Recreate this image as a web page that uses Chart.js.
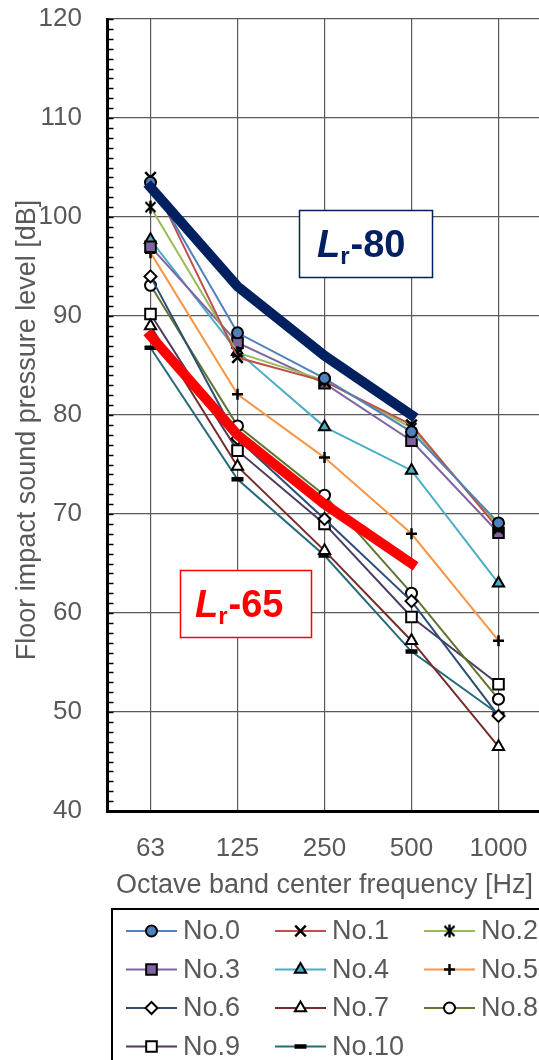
<!DOCTYPE html>
<html><head><meta charset="utf-8">
<script src="https://cdn.jsdelivr.net/npm/chart.js@4.4.0/dist/chart.umd.min.js"></script>
<style>html,body{margin:0;padding:0;overflow:hidden;background:#fff;width:539px;height:1060px}canvas{display:block}</style>
</head><body>
<canvas id="c" width="545" height="1060" style="width:545px;height:1060px"></canvas>
<script>
const categories = ['63', '125', '250', '500', '1000'];
const yTicks = [40, 50, 60, 70, 80, 90, 100, 110, 120];
const seriesNames = ['No.0','No.1','No.2','No.3','No.4','No.5','No.6','No.7','No.8','No.9','No.10'];
const no0  = [103.5, 88.3, 83.7, 78.3, 69.1];
const no1  = [104.0, 85.8, 83.4, 79.0, 68.5];
const no2  = [101.0, 86.3, 83.5, 78.7, 68.8];
const no3  = [97.0, 87.3, 83.2, 77.4, 68.1];
const no4  = [97.7, 86.4, 78.8, 74.4, 63.0];
const no5  = [96.4, 82.1, 75.7, 68.0, 57.2];
const no6  = [94.0, 77.6, 69.5, 61.2, 49.6];
const no7  = [89.0, 74.8, 66.3, 57.2, 46.5];
const no8  = [93.1, 78.9, 71.9, 62.0, 51.3];
const no9  = [90.2, 76.4, 69.0, 59.6, 52.8];
const no10 = [86.8, 73.5, 65.8, 56.1, 49.8];
const lr80 = [103, 93, 86, 80, null];
const lr65 = [88, 78, 71, 65, null];

const FONT = '"Liberation Sans", Arial, sans-serif';
const GRAY = '#595959';

// asterisk marker (x with vertical bar)
const star = document.createElement('canvas');
star.width = 15; star.height = 15;
(function(){const g = star.getContext('2d'); g.strokeStyle='#000'; g.lineWidth=2.4; g.lineCap='butt';
 g.beginPath(); g.moveTo(2.5,2.5); g.lineTo(12.5,12.5); g.moveTo(12.5,2.5); g.lineTo(2.5,12.5);
 g.moveTo(7.5,1); g.lineTo(7.5,14); g.stroke();})();

const styleDefs = [
  {c:'#4F81BD', ps:'circle', r:5.5, bg:'#4F81BD', bw:2},
  {c:'#C0504D', ps:'crossRot', r:7.5, bg:'#000', bw:2.5},
  {c:'#9BBB59', ps:star, r:7, bg:'#000', bw:2},
  {c:'#8064A2', ps:'rect', r:7.5, bg:'#8064A2', bw:2},
  {c:'#4BACC6', ps:'triangle', r:6.5, bg:'#4BACC6', bw:2},
  {c:'#F79646', ps:'cross', r:5.5, bg:'#000', bw:2.5},
  {c:'#2C4D75', ps:'rectRot', r:6, bg:'#fff', bw:2},
  {c:'#772C2A', ps:'triangle', r:6.5, bg:'#fff', bw:2},
  {c:'#5F7530', ps:'circle', r:5.5, bg:'#fff', bw:2},
  {c:'#4D3B62', ps:'rect', r:7.5, bg:'#fff', bw:2},
  {c:'#276A7C', ps:'line', r:6, bg:'#000', bw:4.5}
];
const seriesData = [no0,no1,no2,no3,no4,no5,no6,no7,no8,no9,no10];

const datasets = seriesData.map((d,i)=>({
  label: seriesNames[i], data: d, borderColor: styleDefs[i].c, borderWidth: 2,
  pointStyle: styleDefs[i].ps, pointRadius: styleDefs[i].r, pointBackgroundColor: styleDefs[i].bg,
  pointBorderColor: '#000', pointBorderWidth: styleDefs[i].bw, tension: 0, order: 1
}));
datasets.push({label:'Lr-80', data: lr80, borderColor:'#002060', borderWidth:10, pointRadius:0, borderCapStyle:'square', order:0});
datasets.push({label:'Lr-65', data: lr65, borderColor:'#FF0000', borderWidth:10, pointRadius:0, borderCapStyle:'square', order:0});

const extras = {
  id: 'extras',
  afterDraw(chart) {
    const ctx = chart.ctx, y = chart.scales.y, area = chart.chartArea;
    ctx.save();
    // minor ticks on y axis
    ctx.strokeStyle = '#000'; ctx.lineWidth = 1.5;
    for (let v = yTicks[0]; v <= yTicks[yTicks.length-1]; v++) {
      const py = Math.round(y.getPixelForValue(v)) + 0.5;
      ctx.beginPath(); ctx.moveTo(area.left, py); ctx.lineTo(area.left + 6.5, py); ctx.stroke();
    }
    // y title
    ctx.fillStyle = GRAY; ctx.font = '27px ' + FONT; ctx.textAlign = 'center'; ctx.textBaseline = 'middle';
    ctx.translate(28, 430); ctx.rotate(-Math.PI/2);
    ctx.fillText('Floor impact sound pressure level [dB]', 0, 0);
    ctx.setTransform(1,0,0,1,0,0);
    // annotation boxes
    function label(x, base, color, num) {
      ctx.fillStyle = color; ctx.textAlign = 'left'; ctx.textBaseline = 'alphabetic';
      ctx.font = 'italic bold 38px ' + FONT; ctx.fillText('L', x, base);
      let w = ctx.measureText('L').width;
      ctx.font = 'bold 24px ' + FONT; ctx.fillText('r', x + w, base + 7);
      w += ctx.measureText('r').width + 1;
      ctx.font = 'bold 38px ' + FONT; ctx.fillText('-' + num, x + w, base);
    }
    ctx.lineWidth = 1.5;
    ctx.fillStyle = '#fff'; ctx.fillRect(299.5, 210.5, 133, 67);
    ctx.strokeStyle = '#002060'; ctx.strokeRect(299.5, 210.5, 133, 67);
    label(317, 257, '#002060', '80');
    ctx.fillStyle = '#fff'; ctx.fillRect(180.5, 570.5, 131, 67);
    ctx.strokeStyle = '#FF0000'; ctx.strokeRect(180.5, 570.5, 131, 67);
    label(195, 617, '#FF0000', '65');
    // legend
    ctx.strokeStyle = '#000'; ctx.lineWidth = 2;
    ctx.strokeRect(112, 909, 500, 200);
    for (let i = 0; i < seriesNames.length; i++) {
      const col = i % 3, row = Math.floor(i / 3);
      const lx = 126 + col * 149, ly = 931 + row * 38.5;
      const s = styleDefs[i];
      ctx.strokeStyle = s.c; ctx.lineWidth = 2;
      ctx.beginPath(); ctx.moveTo(lx, ly); ctx.lineTo(lx + 51, ly); ctx.stroke();
      ctx.fillStyle = s.bg; ctx.strokeStyle = '#000'; ctx.lineWidth = s.bw;
      Chart.helpers.drawPoint(ctx, {pointStyle: s.ps, radius: s.r, borderWidth: s.bw, rotation: 0}, lx + 25.5, ly);
      ctx.fillStyle = GRAY; ctx.font = '27px ' + FONT; ctx.textAlign = 'left'; ctx.textBaseline = 'middle';
      ctx.fillText(seriesNames[i], lx + 57, ly + 1);
    }
    ctx.restore();
  }
};

new Chart(document.getElementById('c'), {
  type: 'line',
  data: { labels: categories, datasets },
  options: {
    responsive: false, animation: false, devicePixelRatio: 1,
    events: [],
    layout: { autoPadding: false, padding: { top: 19, left: 0, right: 3, bottom: 158 } },
    plugins: { legend: { display: false }, tooltip: { enabled: false } },
    scales: {
      x: {
        type: 'category', offset: true,
        grid: { offset: false, color: '#5a5a5a', lineWidth: 1.2, drawTicks: false },
        border: { display: true, color: '#000', width: 3 },
        ticks: { color: GRAY, font: { size: 26, family: FONT }, padding: 22, maxRotation: 0, autoSkip: false },
        title: { display: true, text: 'Octave band center frequency [Hz]', color: GRAY, font: { size: 27, family: FONT }, padding: { top: 0, bottom: 0 } },
        afterFit(s) { s.height = 91; s.paddingLeft = 0; s.paddingRight = 0; }
      },
      y: {
        min: 40, max: 120,
        afterBuildTicks(s) { s.ticks = yTicks.map(v => ({ value: v })); },
        grid: { color: '#5a5a5a', lineWidth: 1.2, drawTicks: false },
        border: { display: true, color: '#000', width: 3 },
        ticks: { color: GRAY, font: { size: 26, family: FONT }, padding: 25 },
        afterFit(s) { s.width = 107; s.paddingTop = 0; s.paddingBottom = 0; }
      }
    }
  },
  plugins: [extras]
});
</script>
</body></html>
